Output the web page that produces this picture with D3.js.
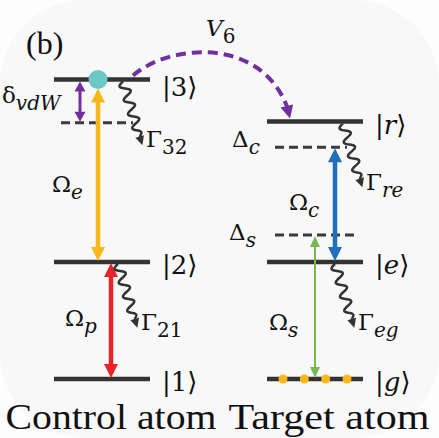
<!DOCTYPE html>
<html>
<head>
<meta charset="utf-8">
<script src="https://cdn.jsdelivr.net/npm/d3@7"></script>
<style>
  body { margin: 0; background: #fdfdfd; }
</style>
</head>
<body>
<script>
// Data: two atoms, three levels each (energies in units of the |1>-|2> gap)
var atoms = ["Control atom", "Target atom"];
var controlLevels = ["1", "2", "3"];
var controlEnergy = [0, 1, 2.56];
var targetLevels = ["g", "e", "r"];
var targetEnergy = [0, 1, 2.2];

// detunings (shifted / virtual levels): atom index, base level energy, shift
var shiftNames = ["δ", "Δ", "Δ"];
var shiftSubs = ["vdW", "c", "s"];
var shiftAtom = [0, 1, 1];
var shiftBase = [2.56, 2.2, 1];
var shiftValue = [-0.37, -0.22, 0.23];

// laser couplings: atom, from energy, to energy
var couplingNames = ["e", "p", "c", "s"];
var couplingAtom = [0, 0, 1, 1];
var couplingFrom = [1, 0, 1, 0];
var couplingTo = [2.56, 1, 1.98, 1.23];

// spontaneous decays: atom, level energy
var decaySubs = ["32", "21", "re", "eg"];
var decayAtom = [0, 0, 1, 1];
var decayFrom = [2.56, 1, 2.2, 1];

var groundAtomCount = 4;

var svgWidth = 439;
var svgHeight = 438;
var serif = "Liberation Serif";
var mathFont = "DejaVu Serif";

var svg = d3.select("body")
  .append("svg")
  .attr("width", svgWidth)
  .attr("height", svgHeight);

// faint rounded panel behind the figure
svg.append("rect")
  .attr("x", 0).attr("y", 0)
  .attr("width", svgWidth).attr("height", svgHeight)
  .attr("rx", 85)
  .attr("fill", "#f8f8f8");

// scales: x = atom column centre, y = energy
var x = d3.scalePoint().domain(atoms).range([102, 315]);
var y = d3.scaleLinear().domain([0, 1]).range([379, 262]);

var levelHalf = 48;
var levelColor = "#333";

// styles per coupling
var couplingColor = ["#f7b718", "#e8232a", "#1f6fbf", "#78b956"];
var couplingDx = [-4, 9, 20, 0];
var couplingWidth = [4.5, 4.5, 4.5, 2];
var couplingHead = [[14, 14], [14, 14], [14, 14], [10, 11]];
var couplingLabelDy = [17, 5, 5, 23];
var decayDx = [21, 16, 28, 20];
var shiftDashX = [[-41, 31], [-40, 32], [-40, 40]];
var shiftLabelX = [2, 232, 229];
var shiftLabelDy = [-20, 0, 5];
var atomTextWidth = [211, 201];

function arrowHead(g, px, py, dirX, dirY, w, l, color) {
  // tip at (px,py), pointing along (dirX,dirY)
  var n = Math.sqrt(dirX * dirX + dirY * dirY);
  var ux = dirX / n, uy = dirY / n;
  var bx = px - ux * l, by = py - uy * l;
  g.append("path")
    .attr("d", "M" + px + "," + py +
      "L" + (bx - uy * w / 2) + "," + (by + ux * w / 2) +
      "L" + (bx + uy * w / 2) + "," + (by - ux * w / 2) + "Z")
    .attr("fill", color);
}

function doubleArrow(g, cx, y1, y2, color, sw, head) {
  // y1 lower (larger pixel), y2 upper
  g.append("line")
    .attr("x1", cx).attr("x2", cx)
    .attr("y1", y1 - head[1] + 1).attr("y2", y2 + head[1] - 1)
    .attr("stroke", color).attr("stroke-width", sw);
  arrowHead(g, cx, y2, 0, -1, head[0], head[1], color);
  arrowHead(g, cx, y1, 0, 1, head[0], head[1], color);
}

function subLabel(g, px, py, main, sub, italicMain) {
  var t = g.append("text")
    .attr("x", px).attr("y", py)
    .style("font-family", mathFont)
    .attr("fill", "#111")
    .attr("font-size", 23);
  t.append("tspan").text(main)
    .attr("font-style", italicMain ? "italic" : "normal");
  t.append("tspan").text(sub)
    .attr("font-size", 20)
    .attr("font-style", /^[0-9]+$/.test(sub) ? "normal" : "italic")
    .attr("dy", 7);
  return t;
}

var g = svg.append("g");

// shifted (dashed) levels
shiftNames.forEach(function (name, i) {
  var cx = x(atoms[shiftAtom[i]]);
  var yy = y(shiftBase[i] + shiftValue[i]);
  g.append("line")
    .attr("x1", cx + shiftDashX[i][0]).attr("x2", cx + shiftDashX[i][1])
    .attr("y1", yy).attr("y2", yy)
    .attr("stroke", "#3a3a3a").attr("stroke-width", 3)
    .attr("stroke-dasharray", "9,5");
  subLabel(g, shiftLabelX[i], yy + shiftLabelDy[i], name, shiftSubs[i], false);
});

// energy levels
[controlEnergy, targetEnergy].forEach(function (energies, a) {
  var names = a === 0 ? controlLevels : targetLevels;
  var cx = x(atoms[a]);
  energies.forEach(function (E, k) {
    g.append("line")
      .attr("x1", cx - levelHalf).attr("x2", cx + levelHalf)
      .attr("y1", y(E)).attr("y2", y(E))
      .attr("stroke", levelColor).attr("stroke-width", 4.5);
    var t = g.append("text")
      .attr("x", cx + 60).attr("y", y(E) + (a === 0 && k === 2 ? 17 : 12))
      .style("font-family", mathFont)
      .attr("font-size", 26)
      .attr("fill", "#111");
    t.append("tspan").text("|");
    t.append("tspan").text(names[k])
      .attr("font-style", a === 1 ? "italic" : "normal");
    t.append("tspan").text("⟩");
  });
  g.append("text")
    .attr("x", cx + (a === 0 ? 9 : 14)).attr("y", 429)
    .attr("text-anchor", "middle")
    .style("font-family", serif)
    .attr("font-size", 36)
    .attr("textLength", atomTextWidth[a])
    .attr("lengthAdjust", "spacingAndGlyphs")
    .attr("fill", "#111")
    .text(atoms[a]);
});

// vdW shift arrow
(function () {
  var cx = x(atoms[0]) - 22;
  doubleArrow(g, cx, y(shiftBase[0] + shiftValue[0]) - 1, y(shiftBase[0]) + 2, "#7030a0", 3, [11, 10]);
})();

// laser couplings
couplingNames.forEach(function (name, i) {
  var cx = x(atoms[couplingAtom[i]]) + couplingDx[i];
  var yLow = y(couplingFrom[i]) - 1;
  var yHigh = y(couplingTo[i]) + (i === 0 ? 9 : 1);
  doubleArrow(g, cx, yLow, yHigh, couplingColor[i], couplingWidth[i], couplingHead[i]);
  subLabel(g, cx - 46, (yLow + yHigh) / 2 + couplingLabelDy[i], "Ω", name, false);
});

// decays: wavy arrows
decaySubs.forEach(function (sub, i) {
  var sx = x(atoms[decayAtom[i]]) + decayDx[i];
  var sy = y(decayFrom[i]) + 2;
  var ex = sx + 17, ey = sy + 56;
  var dx = ex - sx, dy = ey - sy;
  var len = Math.sqrt(dx * dx + dy * dy);
  var ux = dx / len, uy = dy / len;
  var pts = [];
  var n = 48, waves = 4, amp = 5;
  for (var k = 0; k <= n; k++) {
    var t = k / n;
    var off = amp * Math.sin(t * waves * 2 * Math.PI) * (t < 0.88 ? 1 : (1 - t) / 0.12);
    pts.push([sx + dx * t - uy * off, sy + dy * t + ux * off]);
  }
  g.append("path")
    .attr("d", d3.line().curve(d3.curveBasis)(pts))
    .attr("fill", "none").attr("stroke", "#333").attr("stroke-width", 2.5);
  arrowHead(g, ex + ux * 8, ey + uy * 8, dx, dy, 9, 9, "#333");
  subLabel(g, ex + 6, ey + 10, "Γ", sub, false);
});

// excitation marker on |3>
g.append("circle")
  .attr("cx", x(atoms[0]) - 4).attr("cy", y(controlEnergy[2]))
  .attr("r", 9.5)
  .attr("fill", "#6cc8c4");

// atoms in |g>
var dotX = d3.scalePoint().domain(d3.range(groundAtomCount)).range([x(atoms[1]) - 32, x(atoms[1]) + 32]);
g.selectAll(".dot")
  .data(d3.range(groundAtomCount))
  .enter().append("circle")
  .attr("class", "dot")
  .attr("cx", function (d) { return dotX(d); })
  .attr("cy", y(targetEnergy[0]))
  .attr("r", 4.5)
  .attr("fill", "#fbb814");

// V6 interaction arc
(function () {
  var x0 = x(atoms[0]) + 31, y0 = y(controlEnergy[2]) - 4;
  var x3 = 290, y3 = y(targetEnergy[2]) - 3;
  var path = d3.path();
  path.moveTo(x0, y0);
  path.bezierCurveTo(x0 + 37, y0 - 32, x3 - 30, y3 - 82, x3 - 3, y3 - 12);
  g.append("path")
    .attr("d", path.toString())
    .attr("fill", "none")
    .attr("stroke", "#7030a0").attr("stroke-width", 4)
    .attr("stroke-dasharray", "10,6");
  arrowHead(g, x3, y3, 0.25, 1, 13, 13, "#7030a0");
  subLabel(g, 206, 36, "V", "6", true);
})();

// panel tag
g.append("text")
  .attr("x", 26).attr("y", 54)
  .style("font-family", serif)
  .attr("font-size", 32)
  .attr("fill", "#111")
  .text("(b)");
</script>
</body>
</html>
